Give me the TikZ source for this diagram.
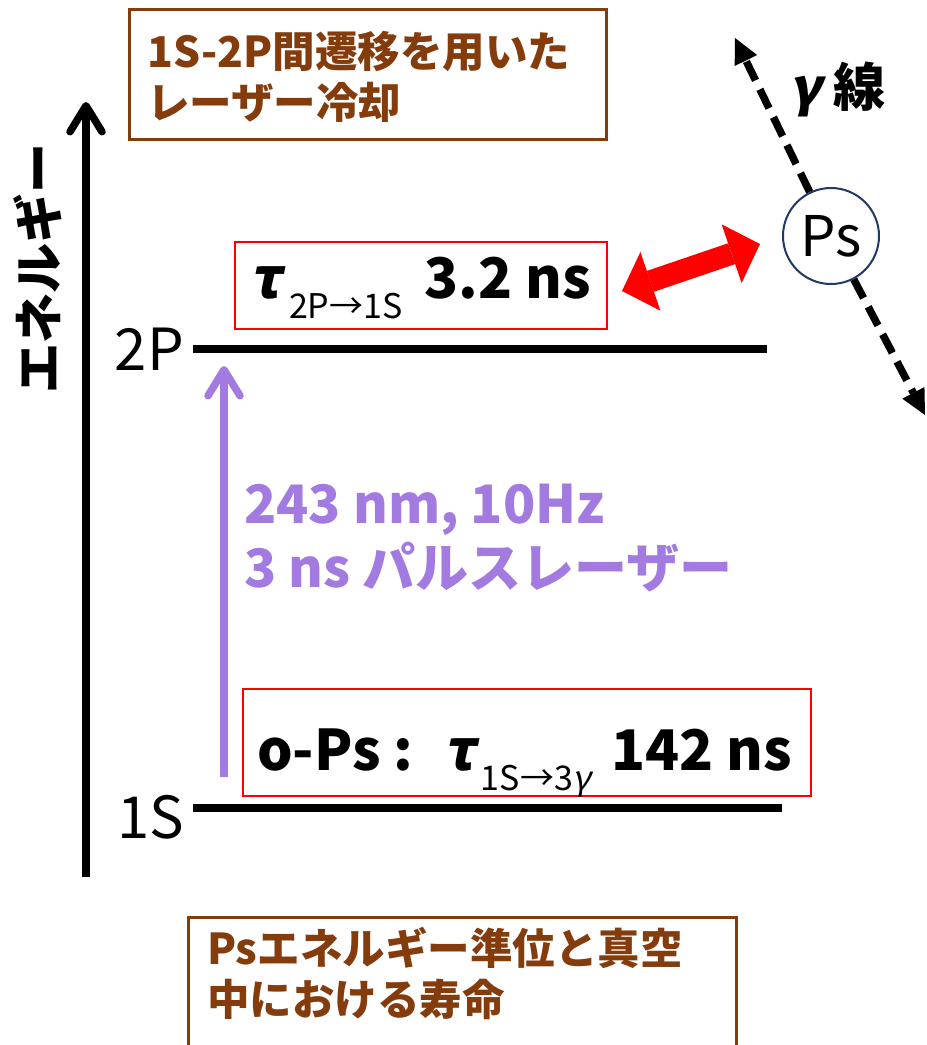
\documentclass[tikz,border=0pt]{standalone}
\usepackage{fontspec}
\setmainfont{Noto Sans CJK JP}
\newfontfamily\slfont[FakeSlant=0.2]{Noto Sans CJK JP}
\usetikzlibrary{arrows.meta,calc}
\definecolor{brn}{HTML}{843C0C}
\definecolor{lpurple}{HTML}{A37BE0}
\definecolor{navy}{HTML}{1F3864}
\newcommand\setfs[1]{\fontsize{#1}{#1}\selectfont}
\tikzset{
  brbox/.style={draw=brn, line width=2.5pt, inner sep=0pt},
  brtext/.style={text=brn, inner sep=0pt, font=\bfseries\fontsize{42.5}{49}\selectfont},
  redbox/.style={draw=red, line width=2pt, inner sep=0pt},
  level/.style={line width=7.5pt},
  levlab/.style={anchor=east, inner sep=0pt, font=\setfs{58}},
  axisarrow/.style={line width=7.5pt, -{Straight Barb[length=26pt,width=32pt,round]}},
  laser/.style={draw=lpurple, line width=7.5pt, -{Straight Barb[length=26pt,width=32pt,round]}},
  gline/.style={line width=7.5pt, dash pattern=on 21pt off 10pt, -{Triangle[length=25pt,width=25pt,line width=0pt]}},
  redarrow/.style={draw=red, line width=22pt, {Triangle[length=30pt,width=62pt,line width=0pt]}-{Triangle[length=30pt,width=62pt,line width=0pt]}}
}
\begin{document}
\begin{tikzpicture}[x=1pt,y=-1pt]
\path[use as bounding box] (0,0) rectangle (927,1045);
\clip (0,0) rectangle (927,1045);

% top box
\node[brbox, minimum width=477pt, minimum height=130pt, anchor=north west] (cool) at (128,8) {};
\node[brtext, anchor=base west] (cooltxt) at (147,67) {\begin{tabular}[t]{@{}l@{}}1S-2P間遷移を用いた\\レーザー冷却\end{tabular}};

% bottom box
\node[brbox, minimum width=548pt, minimum height=200pt, anchor=north west] (life) at (187,916) {};
\node[brtext, anchor=base west] (lifetxt) at (207,964) {\begin{tabular}[t]{@{}l@{}}Psエネルギー準位と真空\\中における寿命\end{tabular}};

% energy axis
\coordinate (axbot) at (86,877);
\coordinate (axtop) at (86,102);
\draw[axisarrow] (axbot) -- (axtop);
\node[rotate=90, font=\bfseries\setfs{50}] (elabel) at (38,268) {エネルギー};

% levels
\coordinate (l2a) at (193,349); \coordinate (l2b) at (767,349);
\coordinate (l1a) at (193,808); \coordinate (l1b) at (782,808);
\draw[level] (l2a) -- (l2b);
\draw[level] (l1a) -- (l1b);
\node[levlab] (lab2p) at (184,349) {2P};
\node[levlab] (lab1s) at (184,817) {1S};

% laser
\coordinate (lbot) at (224,777);
\coordinate (ltop) at (224,366);
\draw[laser] (lbot) -- (ltop);
\node[anchor=base west, inner sep=0pt, text=lpurple, font=\bfseries\fontsize{53}{64}\selectfont] (lasertxt) at (244,523) {\begin{tabular}[t]{@{}l@{}}243 nm, 10Hz\\3 ns パルスレーザー\end{tabular}};

% red boxes
\node[redbox, minimum width=372pt, minimum height=87pt, anchor=north west] (t2p) at (234,241) {};
\node[anchor=base west, inner sep=0pt, font=\bfseries\setfs{56}] (t2ptxt) at (249,298) {{\slfont τ}\kern8pt\raisebox{-20pt}{\mdseries\setfs{34}2P→1S}\kern22pt 3.2 ns};

\node[redbox, minimum width=568pt, minimum height=107pt, anchor=north west] (ops) at (242,688) {};
\node[anchor=base west, inner sep=0pt, font=\bfseries\setfs{56}] (opstxt) at (257,770) {o-Ps :\kern30pt{\slfont τ}\kern6pt\raisebox{-20pt}{\mdseries\setfs{34}1S→3{\slfont γ}}\kern20pt 142 ns};

% Ps and gamma rays
\node[circle, draw=navy, line width=2pt, fill=white, minimum size=96pt, inner sep=0pt, font=\setfs{56}] (ps) at (831,236) {Ps};
\coordinate (gtop) at (735,38);
\coordinate (gbot) at (925,415);
\draw[gline] (ps) -- (gtop);
\draw[gline] (ps) -- (gbot);
\node[anchor=base west, inner sep=0pt, font=\bfseries\setfs{52}] (gtxt) at (789,106) {{\slfont γ}\kern12pt線};

% red double arrow
\draw[redarrow] ($(t2p.east)+(14,5.5)$) -- ($(ps.west)+(-22,8)$);
\end{tikzpicture}
\end{document}
